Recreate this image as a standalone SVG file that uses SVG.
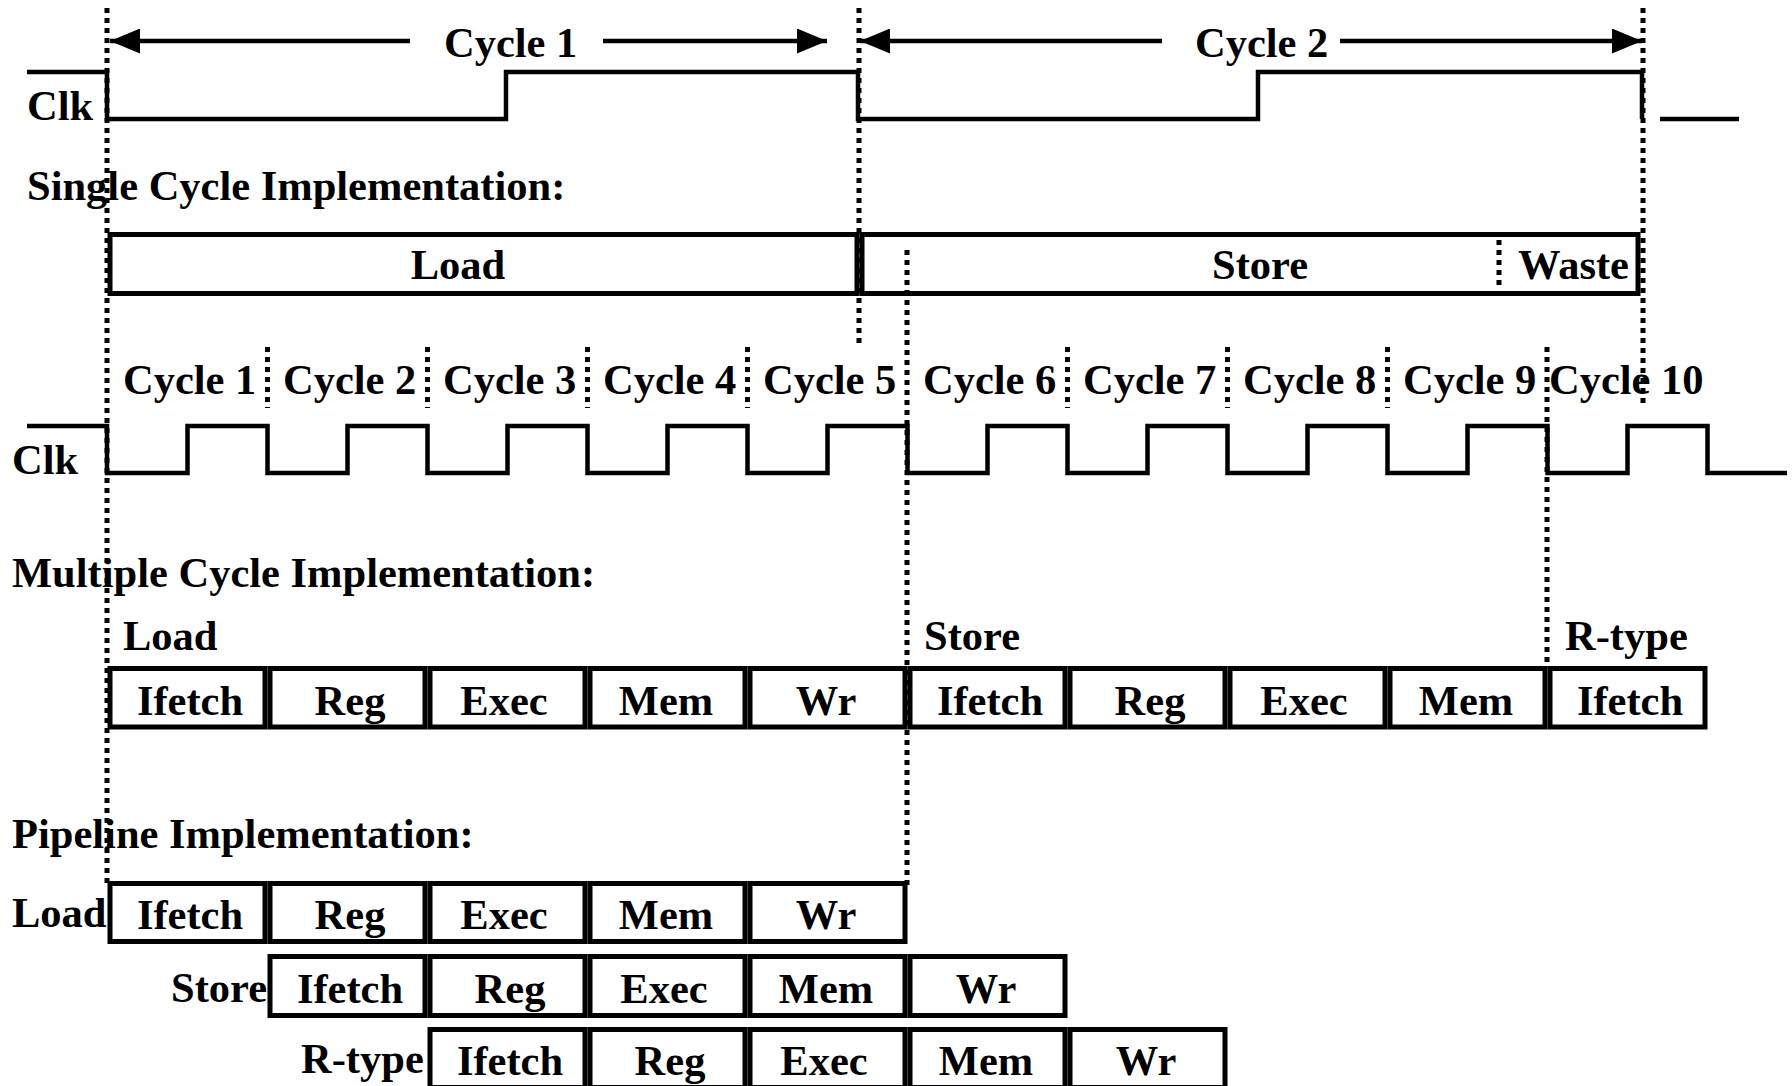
<svg xmlns="http://www.w3.org/2000/svg" width="1792" height="1086" viewBox="0 0 1792 1086">
<style>
text{font-family:"Liberation Serif","Times New Roman",serif;font-weight:bold;font-size:42.5px;fill:#000}
.m{text-anchor:middle}
.w{fill:none;stroke:#000;stroke-width:4.5}
.dot{fill:none;stroke:#000;stroke-width:5;stroke-dasharray:5 5}
.cell{fill:#fff;stroke:#000;stroke-width:5}
.arr{stroke:#000;stroke-width:4.5}
</style>
<defs>
<marker id="ah" viewBox="0 0 30 25" refX="30" refY="12.5" markerWidth="30" markerHeight="25" markerUnits="userSpaceOnUse" orient="auto-start-reverse">
<path d="M0,0 L30,12.5 L0,25 z" fill="#000"/>
</marker>
</defs>
<rect width="1792" height="1086" fill="#fff"/>

<g id="connectors">
<line class="arr" x1="110" y1="41" x2="410" y2="41" marker-start="url(#ah)"/>
<line class="arr" x1="603" y1="41" x2="827" y2="41" marker-end="url(#ah)"/>
<line class="arr" x1="860" y1="41" x2="1162" y2="41" marker-start="url(#ah)"/>
<line class="arr" x1="1340" y1="41" x2="1642" y2="41" marker-end="url(#ah)"/>
</g>

<g id="labels">
<text x="444" y="57">Cycle 1</text>
<text x="1195" y="57">Cycle 2</text>
<text x="27" y="120">Clk</text>
<text x="27" y="200">Single Cycle Implementation:</text>
<text x="123" y="394">Cycle 1</text>
<text x="283" y="394">Cycle 2</text>
<text x="443" y="394">Cycle 3</text>
<text x="603" y="394">Cycle 4</text>
<text x="763" y="394">Cycle 5</text>
<text x="923" y="394">Cycle 6</text>
<text x="1083" y="394">Cycle 7</text>
<text x="1243" y="394">Cycle 8</text>
<text x="1403" y="394">Cycle 9</text>
<text x="1549" y="394">Cycle 10</text>
<text x="12" y="474">Clk</text>
<text x="12" y="587">Multiple Cycle Implementation:</text>
<text x="123" y="650">Load</text>
<text x="924" y="650">Store</text>
<text x="1565" y="650">R-type</text>
<text x="12" y="848">Pipeline Implementation:</text>
<text x="12" y="927">Load</text>
<text x="171" y="1002">Store</text>
<text x="301" y="1073">R-type</text>
</g>

<g id="clk-single">
<path class="w" d="M27,72 H107 V119 H506 V72 H858 V119 H1258 V72 H1642 V119"/>
<path class="w" d="M1660,119 H1739"/>
</g>

<g id="clk-multi">
<path class="w" d="M27,426 H107 V473 H187.5 V426 H267.5 V473 H347.5 V426 H427.5 V473 H507.5 V426 H587.5 V473 H667.5 V426 H747.5 V473 H827.5 V426 H907.5 V473 H987.5 V426 H1067.5 V473 H1147.5 V426 H1227.5 V473 H1307.5 V426 H1387.5 V473 H1467.5 V426 H1547.5 V473 H1627.5 V426 H1707.5 V473 H1787"/>
</g>

<g id="single-load">
<rect class="cell" x="110" y="234.5" width="747" height="59"/>
<text class="m" x="458" y="279">Load</text>
</g>
<g id="single-store">
<rect class="cell" x="862" y="234.5" width="776" height="59"/>
<text class="m" x="1260" y="279">Store</text>
<text x="1518" y="279">Waste</text>
</g>

<g id="multi">
<rect class="cell" x="110" y="668.5" width="155" height="58.5"/><text class="m" x="190" y="715">Ifetch</text>
<rect class="cell" x="270" y="668.5" width="155" height="58.5"/><text class="m" x="350" y="715">Reg</text>
<rect class="cell" x="430" y="668.5" width="155" height="58.5"/><text class="m" x="504" y="715">Exec</text>
<rect class="cell" x="590" y="668.5" width="155" height="58.5"/><text class="m" x="666" y="715">Mem</text>
<rect class="cell" x="750" y="668.5" width="155" height="58.5"/><text class="m" x="826" y="715">Wr</text>
<rect class="cell" x="910" y="668.5" width="155" height="58.5"/><text class="m" x="990" y="715">Ifetch</text>
<rect class="cell" x="1070" y="668.5" width="155" height="58.5"/><text class="m" x="1150" y="715">Reg</text>
<rect class="cell" x="1230" y="668.5" width="155" height="58.5"/><text class="m" x="1304" y="715">Exec</text>
<rect class="cell" x="1390" y="668.5" width="155" height="58.5"/><text class="m" x="1466" y="715">Mem</text>
<rect class="cell" x="1550" y="668.5" width="155" height="58.5"/><text class="m" x="1630" y="715">Ifetch</text>
</g>

<g id="pipe-load">
<rect class="cell" x="110" y="883.5" width="155" height="58"/><text class="m" x="190" y="929">Ifetch</text>
<rect class="cell" x="270" y="883.5" width="155" height="58"/><text class="m" x="350" y="929">Reg</text>
<rect class="cell" x="430" y="883.5" width="155" height="58"/><text class="m" x="504" y="929">Exec</text>
<rect class="cell" x="590" y="883.5" width="155" height="58"/><text class="m" x="666" y="929">Mem</text>
<rect class="cell" x="750" y="883.5" width="155" height="58"/><text class="m" x="826" y="929">Wr</text>
</g>
<g id="pipe-store">
<rect class="cell" x="270" y="956.5" width="155" height="59"/><text class="m" x="350" y="1003">Ifetch</text>
<rect class="cell" x="430" y="956.5" width="155" height="59"/><text class="m" x="510" y="1003">Reg</text>
<rect class="cell" x="590" y="956.5" width="155" height="59"/><text class="m" x="664" y="1003">Exec</text>
<rect class="cell" x="750" y="956.5" width="155" height="59"/><text class="m" x="826" y="1003">Mem</text>
<rect class="cell" x="910" y="956.5" width="155" height="59"/><text class="m" x="986" y="1003">Wr</text>
</g>
<g id="pipe-rtype">
<rect class="cell" x="430" y="1029.5" width="155" height="58"/><text class="m" x="510" y="1075">Ifetch</text>
<rect class="cell" x="590" y="1029.5" width="155" height="58"/><text class="m" x="670" y="1075">Reg</text>
<rect class="cell" x="750" y="1029.5" width="155" height="58"/><text class="m" x="824" y="1075">Exec</text>
<rect class="cell" x="910" y="1029.5" width="155" height="58"/><text class="m" x="986" y="1075">Mem</text>
<rect class="cell" x="1070" y="1029.5" width="155" height="58"/><text class="m" x="1146" y="1075">Wr</text>
</g>

<g id="guides">
<line class="dot" x1="107" y1="8" x2="107" y2="888"/>
<line class="dot" x1="859" y1="8" x2="859" y2="345"/>
<line class="dot" x1="1643" y1="8" x2="1643" y2="408"/>
<line class="dot" x1="907" y1="250" x2="907" y2="888"/>
<line class="dot" x1="1499" y1="240" x2="1499" y2="288"/>
<line class="dot" x1="267.5" y1="347" x2="267.5" y2="408"/>
<line class="dot" x1="427.5" y1="347" x2="427.5" y2="408"/>
<line class="dot" x1="587.5" y1="347" x2="587.5" y2="408"/>
<line class="dot" x1="747.5" y1="347" x2="747.5" y2="408"/>
<line class="dot" x1="1067.5" y1="347" x2="1067.5" y2="408"/>
<line class="dot" x1="1227.5" y1="347" x2="1227.5" y2="408"/>
<line class="dot" x1="1387.5" y1="347" x2="1387.5" y2="408"/>
<line class="dot" x1="1547" y1="347" x2="1547" y2="668"/>
</g>
</svg>
